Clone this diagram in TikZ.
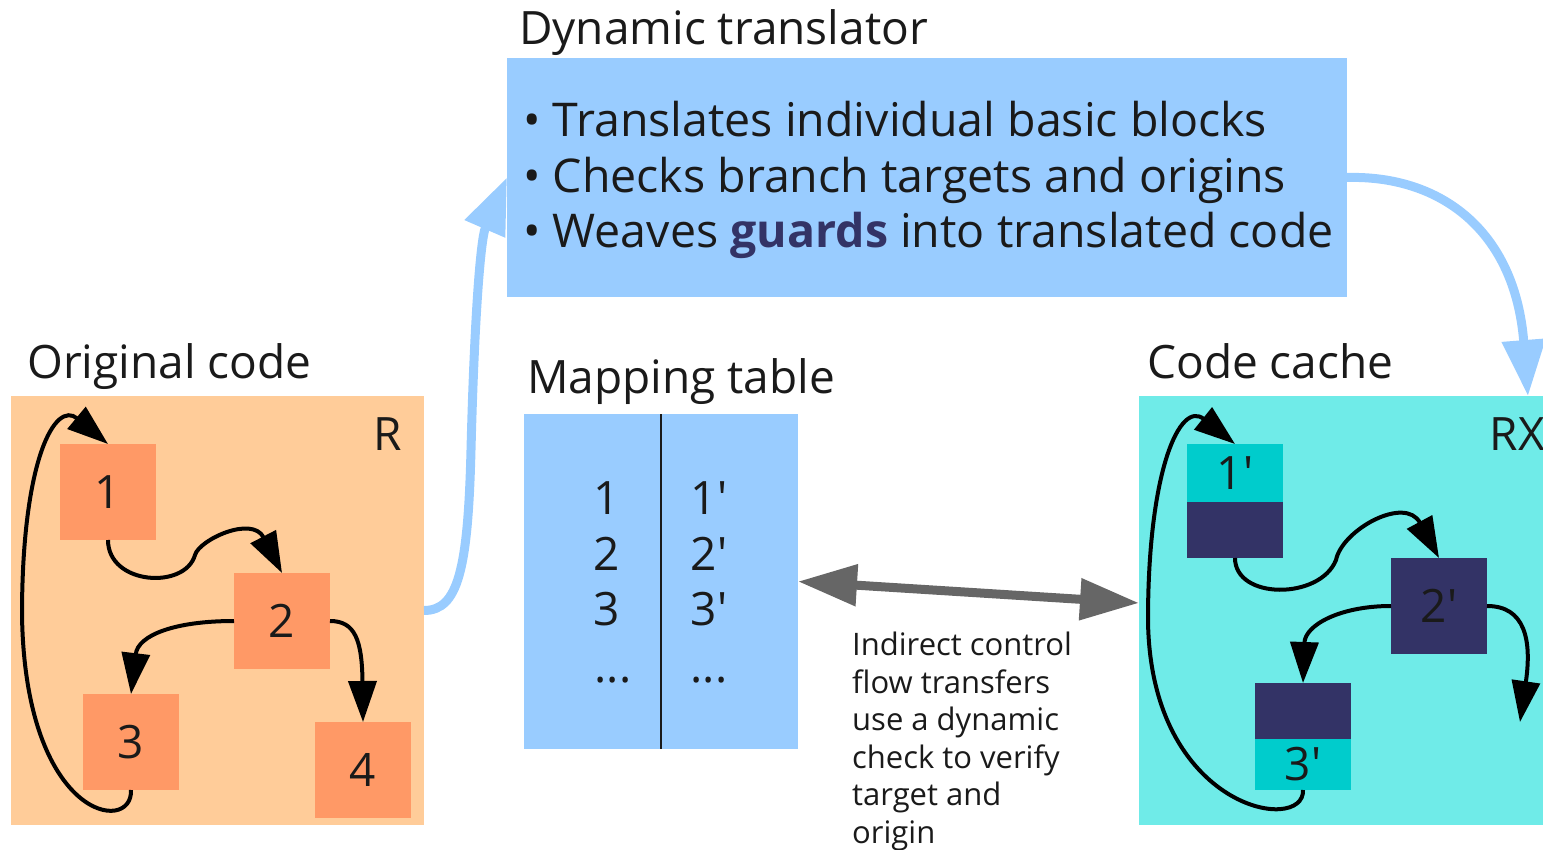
\documentclass[tikz,border=0pt]{standalone}
\usepackage{fontspec}
\setmainfont{Open Sans}
\usetikzlibrary{arrows.meta,calc}

\definecolor{origbg}{HTML}{FFCC99}
\definecolor{origblk}{HTML}{FF9966}
\definecolor{transbg}{HTML}{99CCFF}
\definecolor{cachebg}{HTML}{6FEBE8}
\definecolor{cacheblk}{HTML}{00CCCC}
\definecolor{guardc}{HTML}{333366}
\definecolor{textc}{HTML}{1A1A1A}
\definecolor{linkc}{HTML}{666666}

\newcommand{\pr}{\textquotesingle}

\begin{document}
\begin{tikzpicture}[x=1pt,y=-1pt,
  area/.style={inner sep=0pt, outer sep=0pt, draw=none},
  blockbox/.style={area, minimum width=96pt, minimum height=96pt, fill=origblk,
    text=textc, font=\fontsize{46}{55}\selectfont},
  title/.style={inner sep=0pt, anchor=base west, text=textc, font=\fontsize{46}{55}\selectfont},
  cell/.style={inner sep=0pt, anchor=base, text=textc, font=\fontsize{46}{55}\selectfont},
  bullet/.style={inner sep=0pt, anchor=base west, text=textc, font=\fontsize{46.5}{56}\selectfont},
  flow/.style={line width=4pt, draw=black, -{Triangle[length=41pt,width=28pt]}},
  feed/.style={line width=9pt, draw=transbg, -{Triangle[length=56pt,width=42pt]}},
  link/.style={line width=9pt, draw=linkc,
    {Triangle[length=59pt,width=40pt]}-{Triangle[length=59pt,width=40pt]}}
]
\useasboundingbox (0,0) rectangle (1543,850);

% ---------- dynamic translator ----------
\node[title] (ttitle) at (519,45) {Dynamic translator};
\node[area, fill=transbg, minimum width=840pt, minimum height=239pt] (trans) at (927,177.5) {};
\node[bullet] (tb1) at (523,137) {• Translates individual basic blocks};
\node[bullet] (tb2) at (523,193) {• Checks branch targets and origins};
\node[bullet] (tb3) at (523,248) {• Weaves \textcolor{guardc}{\textbf{guards}} into translated code};

% ---------- original code ----------
\node[title] (otitle) at (27,378) {Original code};
\node[area, fill=origbg, minimum width=413pt, minimum height=429pt] (orig) at (217.5,610.5) {};
\node[title] (rlab) at (373,450) {R};
\node[blockbox] (b1) at (108,492) {1};
\node[blockbox] (b2) at (282,621) {2};
\node[blockbox] (b3) at (131,742) {3};
\node[blockbox] (b4) at (363,770) {4};

\draw[flow] (b1.south) .. controls (108,585) and (185,590) .. (195,555)
                       .. controls (199,540) and (252,515) .. (b2.north);
\draw[flow] (b2.west) .. controls (175,621) and (138,635) .. (b3.north);
\draw[flow] (b2.east) .. controls (355,621) and (362,640) .. (b4.north);
\draw[flow] (b3.south) .. controls (133,835) and (25,820) .. (22,615)
                       .. controls (22,460) and (55,400) .. (b1.north);

% ---------- mapping table ----------
\node[title] (mtitle) at (527,393) {Mapping table};
\node[area, fill=transbg, minimum width=274pt, minimum height=335pt] (map) at (661,581.5) {};
\draw[line width=1.2pt, draw=textc] (map.north) -- (map.south);
\node[cell] (m1) at (607,514) {1};
\node[cell] (m2) at (607,570) {2};
\node[cell] (m3) at (607,625) {3};
\node[cell] (m4) at (613,682) {...};
\node[cell] (n1) at (709,514) {1\pr};
\node[cell] (n2) at (709,570) {2\pr};
\node[cell] (n3) at (709,625) {3\pr};
\node[cell] (n4) at (709,682) {...};

% ---------- code cache ----------
\node[title] (ctitle) at (1147,378) {Code cache};
\node[area, fill=cachebg, minimum width=404pt, minimum height=429pt] (cache) at (1341,610.5) {};
\node[title, anchor=base east] (rxlab) at (1545,450) {RX};
\node[blockbox, fill=cacheblk, minimum height=58pt] (c1) at (1235,473) {1\pr};
\node[blockbox, fill=guardc, minimum height=56pt] (c1g) at (1235,530) {};
\node[blockbox, fill=guardc, text=textc] (c2) at (1439,606) {2\pr};
\node[blockbox, fill=guardc, minimum height=56pt] (c3g) at (1303,711) {};
\node[blockbox, fill=cacheblk, minimum height=51pt] (c3) at (1303,764.5) {3\pr};
\coordinate (cexit) at (1520,722);

\draw[flow] (c1g.south) .. controls (1235,600) and (1320,600) .. (1336,560)
                        .. controls (1342,530) and (1405,495) .. (c2.north);
\draw[flow] (c2.west) .. controls (1340,606) and (1305,625) .. (c3g.north);
\draw[flow] (c2.east) .. controls (1525,606) and (1532,640) .. (cexit);
\draw[flow] (c3.south) .. controls (1305,835) and (1150,810) .. (1148,620)
                       .. controls (1148,470) and (1180,400) .. (c1.north);

% ---------- translation feed arrows ----------
\draw[feed] (orig.east) .. controls (458,610.5) and (468,570) .. (471,450)
            .. controls (474,330) and (480,240) .. (trans.west);
\coordinate (centry) at ($(cache.north east)+(-15,0)$);
\draw[feed] (trans.east) .. controls (1440,175) and (1515,230) .. (centry);

% ---------- lookup between table and cache ----------
\draw[link] (map.east) -- ($(cache.west)+(0,-7.5)$);
\node[inner sep=0pt, anchor=north west, align=left, text=textc,
      font=\fontsize{31}{37.5}\selectfont] (note) at (852,632)
  {Indirect control\\flow transfers\\use a dynamic\\check to verify\\target and\\origin};
\end{tikzpicture}
\end{document}
